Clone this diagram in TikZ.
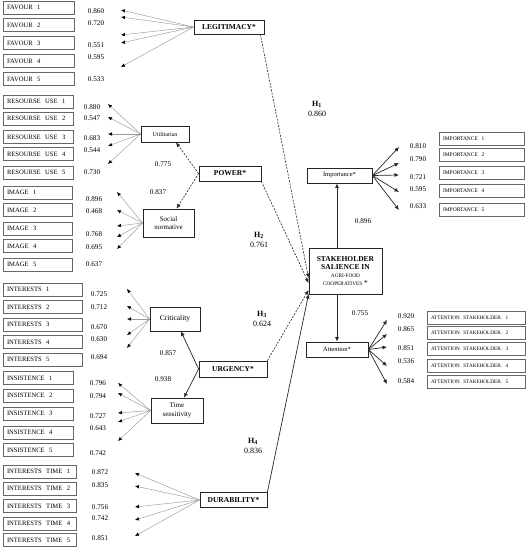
\documentclass[tikz,border=0pt]{standalone}
\usepackage{fontspec}
\setmainfont{Liberation Serif}
\usepackage{tikz}
\usetikzlibrary{calc,arrows.meta}

\newcommand{\fsz}[2][1.2]{\fontsize{#2}{#1\dimexpr #2pt\relax}\selectfont}

\begin{document}
\begin{tikzpicture}[x=1pt, y=-1pt,
  indbox/.style={draw=black!60, line width=0.6pt, minimum height=13pt, inner xsep=4pt, inner ysep=0pt, align=left, font=\fsz{6.6}},
  rightbox/.style={indbox, font=\fsz{5.5}},
  latent/.style={draw=black!85, line width=0.8pt, inner sep=0pt, align=center},
  load/.style={font=\fsz{7.2}, inner sep=0pt},
  hyp/.style={font=\fontsize{8}{10}\selectfont, inner sep=0pt, align=center},
  loadarrow/.style={draw=black!40, line width=0.45pt, -{Latex[length=4pt,width=3.5pt,color=black]}},
  patharrow/.style={draw=black!85, line width=0.7pt, -{Latex[length=4.5pt,width=4pt]}},
  hyparrow/.style={draw=black!85, line width=0.6pt, dash pattern=on 2pt off 1.3pt, -{Latex[length=4.5pt,width=4pt]}}
]
  \useasboundingbox (0,0) rectangle (529,550);

  % Constructs
  \node[latent, minimum width=70pt, minimum height=14pt, font=\fsz{7.5}\bfseries] (legit) at (229,27) {LEGITIMACY*};
  \node[latent, minimum width=48pt, minimum height=16pt, font=\fsz{6}] (util) at (165,134) {Utilitarian};
  \node[latent, minimum width=62pt, minimum height=15pt, font=\fsz{7.5}\bfseries] (power) at (230,173.5) {POWER*};
  \node[latent, minimum width=51pt, minimum height=28pt, font=\fontsize{7}{8.5}\selectfont] (social) at (168.5,223) {Social\\normative};
  \node[latent, minimum width=50pt, minimum height=24pt, font=\fsz{7.5}] (crit) at (175,319) {Criticality};
  \node[latent, minimum width=68pt, minimum height=16pt, font=\fsz{7.5}\bfseries] (urgency) at (233,369) {URGENCY*};
  \node[latent, minimum width=52pt, minimum height=25pt, font=\fontsize{7}{8.5}\selectfont] (timesens) at (177,410.5) {Time\\sensitivity};
  \node[latent, minimum width=67pt, minimum height=15pt, font=\fsz{7.5}\bfseries] (durab) at (233.5,500) {DURABILITY*};
  \node[latent, minimum width=73pt, minimum height=46pt, font=\fontsize{7.5}{8}\selectfont] (salience) at (345.5,271)
    {\textbf{STAKEHOLDER}\\\textbf{SALIENCE IN}\\{\fsz{5.3}AGRI-FOOD}\\{\fsz{5.3}COOPERATIVES} *};
  \node[latent, minimum width=65pt, minimum height=15pt, font=\fsz{6.5}] (import) at (339.5,175.5) {Importance*};
  \node[latent, minimum width=62pt, minimum height=15pt, font=\fsz{6.5}] (attent) at (337,349.5) {Attention*};

  % Indicator boxes
  \foreach \y [count=\i] in {7.5,25,43,61,79}
    \node[indbox, text width=63pt] (fav\i) at (38.5,\y) {FAVOUR\ \ \i};
  \foreach \y [count=\i] in {101.5,118.5,137,154,172.5}
    \node[indbox, text width=62pt] (res\i) at (38,\y) {RESOURSE\ \ USE\ \ \i};
  \foreach \y [count=\i] in {192.5,210,228.5,246,264.5}
    \node[indbox, text width=61pt] (img\i) at (37.5,\y) {IMAGE\ \ \i};
  \foreach \y [count=\i] in {289.5,307,324.5,342,359.5}
    \node[indbox, text width=71pt] (int\i) at (42.5,\y) {INTERESTS\ \ \i};
  \foreach \y [count=\i] in {378,395.5,413.5,432.5,450}
    \node[indbox, text width=62pt] (ins\i) at (38,\y) {INSISTENCE\ \ \i};
  \foreach \y [count=\i] in {471.5,488.5,506,523.5,540}
    \node[indbox, text width=65pt] (itm\i) at (39.5,\y) {INTERESTS\ \ TIME\ \ \i};
  \foreach \y [count=\i] in {139,154.5,173,191,209.5}
    \node[rightbox, text width=77pt] (imp\i) at (481.5,\y) {IMPORTANCE\ \ \i};
  \foreach \y [count=\i] in {318,333,349,366,382}
    \node[rightbox, text width=90pt, font=\fsz{5.2}] (att\i) at (476,\y) {ATTENTION\ \ STAKEHOLDER.\ \ \i};

  % Loadings: value / label y / arrow tip y
  \foreach \v/\y/\t [count=\i] in {0.860/11/10,0.720/23/17,0.551/45/35,0.595/57/43,0.533/79/67} {
    \node[load] (lfav\i) at (96,\y) {\v};
    \coordinate (tfav\i) at (121,\t);
    \draw[loadarrow] (legit.west) -- (tfav\i);
  }
  \foreach \v/\y/\t [count=\i] in {0.880/107/104,0.547/118/117,0.683/138/134,0.544/150/146,0.730/172/164} {
    \node[load] (lres\i) at (92,\y) {\v};
    \coordinate (tres\i) at (108,\t);
    \draw[loadarrow] (util.west) -- (tres\i);
  }
  \foreach \v/\y/\t [count=\i] in {0.896/199/192,0.468/211/210,0.768/234/226,0.695/247/237,0.637/264/249} {
    \node[load] (limg\i) at (94,\y) {\v};
    \coordinate (timg\i) at (117,\t);
    \draw[loadarrow] (social.west) -- (timg\i);
  }
  \foreach \v/\y/\t [count=\i] in {0.725/294/289,0.712/307/306,0.670/327/319,0.630/339/335,0.694/357/348} {
    \node[load] (lint\i) at (99,\y) {\v};
    \coordinate (tint\i) at (127,\t);
    \draw[loadarrow] (crit.west) -- (tint\i);
  }
  \foreach \v/\y/\t [count=\i] in {0.796/383/383,0.794/396/393,0.727/416/413,0.643/428/422,0.742/453/441} {
    \node[load] (lins\i) at (98,\y) {\v};
    \coordinate (tins\i) at (118,\t);
    \draw[loadarrow] (timesens.west) -- (tins\i);
  }
  \foreach \v/\y/\t [count=\i] in {0.872/472/473,0.835/485/486,0.756/507/507,0.742/518/520,0.851/538/536} {
    \node[load] (litm\i) at (100,\y) {\v};
    \coordinate (titm\i) at (135,\t);
    \draw[loadarrow] (durab.west) -- (titm\i);
  }
  \foreach \v/\y/\t [count=\i] in {0.810/146/147,0.790/159/163,0.721/177/175,0.595/189/192,0.633/206/210} {
    \node[load] (limp\i) at (418,\y) {\v};
    \coordinate (timp\i) at (399,\t);
    \draw[patharrow] (import.east) -- (timp\i);
  }
  \foreach \v/\y/\t [count=\i] in {0.920/316/320,0.865/329/334,0.851/348/347,0.536/361/366,0.584/381/384} {
    \node[load] (latt\i) at (406,\y) {\v};
    \coordinate (tatt\i) at (387,\t);
    \draw[patharrow] (attent.east) -- (tatt\i);
  }

  % Second-order paths
  \draw[hyparrow] (power.west) -- ([xshift=11pt]util.south);
  \draw[hyparrow] (power.west) -- ([xshift=8pt]social.north);
  \draw[patharrow] (urgency.west) -- ([xshift=6pt]crit.south);
  \draw[patharrow] (urgency.west) -- ([xshift=7pt]timesens.north);
  \node[load] (p775) at (163,164) {0.775};
  \node[load] (p837) at (158,192) {0.837};
  \node[load] (p857) at (168,353) {0.857};
  \node[load] (p938) at (163,379) {0.938};

  % Hypotheses into salience
  \coordinate (in1) at ([yshift=-7pt]salience.west);
  \coordinate (in2) at ([yshift=-12pt]salience.west);
  \coordinate (in3) at ([yshift=-19pt]salience.west);
  \coordinate (in4) at ([yshift=-23pt]salience.west);
  \draw[hyparrow] ([xshift=-4pt]legit.south east) -- (in1);
  \draw[hyparrow] (power.south east) -- (in2);
  \draw[hyparrow] (urgency.north east) -- (in3);
  \draw[patharrow] (durab.north east) -- (in4);
  \node[hyp] (h1) at (317,109) {\textbf{H\textsubscript{1}}\\0.860};
  \node[hyp] (h2) at (259,240) {\textbf{H\textsubscript{2}}\\0.761};
  \node[hyp] (h3) at (262,318.5) {\textbf{H\textsubscript{3}}\\0.624};
  \node[hyp] (h4) at (253,446) {\textbf{H\textsubscript{4}}\\0.836};

  % Salience dimensions
  \draw[patharrow] (salience.north -| attent.north) -- (attent.north |- import.south);
  \draw[patharrow] (salience.south -| attent.north) -- (attent.north);
  \node[load] (p896) at (363,221) {0.896};
  \node[load] (p755) at (360,313) {0.755};
\end{tikzpicture}
\end{document}
